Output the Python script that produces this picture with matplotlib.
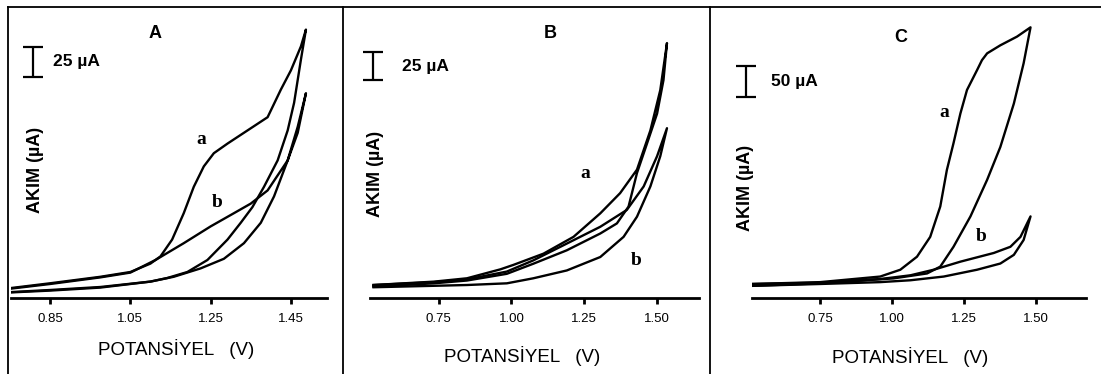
import matplotlib.pyplot as plt
from matplotlib.lines import Line2D

# cyclic voltammograms, curve "a" and "b" in three panels (potential in V, current in uA)
A_a_v = [0.754, 0.85, 0.975, 1.05, 1.10, 1.125, 1.154, 1.183, 1.208, 1.233, 1.258, 1.292, 1.342, 1.392, 1.425, 1.45,
         1.475, 1.4875,
         1.475, 1.458, 1.442, 1.417, 1.383, 1.354, 1.325, 1.292, 1.242, 1.192, 1.142, 1.10, 0.975, 0.85, 0.754]
A_a_i = [1.7, 5.6, 11, 15, 22, 28, 42, 64, 86, 103, 114, 122, 133, 144, 167, 183,
         203, 217,
         192, 156, 133, 108, 86, 69, 56, 42, 25, 15, 10, 7, 2.5, 0, -1.7]
A_b_v = [0.754, 0.85, 0.975, 1.05, 1.1125, 1.183, 1.25, 1.308, 1.35, 1.392, 1.442, 1.467, 1.4875,
         1.467, 1.442, 1.408, 1.375, 1.333, 1.283, 1.225, 1.158, 1.10, 0.975, 0.85, 0.754]
A_b_i = [1.2, 5, 10.5, 14.5, 25, 39, 53, 64, 72, 83, 108, 131, 164,
         136, 108, 78, 56, 39, 26, 18, 11, 7, 2, -0.5, -2]

B_a_v = [0.526, 0.733, 0.847, 0.962, 1.007, 1.110, 1.213, 1.305, 1.373, 1.431, 1.477, 1.511, 1.534,
         1.522, 1.50, 1.465, 1.431, 1.402, 1.362, 1.305, 1.19, 1.075, 0.984, 0.847, 0.733, 0.526]
B_a_i = [0, 3, 6, 14, 18, 28, 43, 64, 82, 103, 138, 174, 216,
         183, 153, 126, 100, 70, 55, 46, 31, 19, 10, 4, 1.5, -1.5]
B_b_v = [0.526, 0.733, 0.847, 0.984, 1.075, 1.19, 1.305, 1.396, 1.454, 1.50, 1.534,
         1.511, 1.477, 1.431, 1.385, 1.305, 1.19, 1.075, 0.984, 0.847, 0.526]
B_b_i = [0, 2.5, 5, 12, 22, 37, 52, 67, 88, 115, 140,
         115, 88, 61, 43, 25, 13, 6, 1.5, 0, -2]

C_a_v = [0.513, 0.75, 0.959, 1.029, 1.087, 1.133, 1.168, 1.191, 1.214, 1.238, 1.261, 1.2785, 1.296, 1.313, 1.331,
         1.377, 1.435, 1.482,
         1.458, 1.424, 1.377, 1.331, 1.273, 1.214, 1.168, 1.122, 1.005, 0.75, 0.513]
C_a_i = [0, 3, 12, 23, 44, 76, 125, 184, 227, 275, 313, 329, 345, 361, 372,
         385, 399, 414,
         356, 291, 221, 168, 109, 60, 28, 17, 9, 1, -3]
C_b_v = [0.513, 0.75, 0.959, 1.064, 1.145, 1.238, 1.354, 1.412, 1.447, 1.482,
         1.458, 1.424, 1.377, 1.296, 1.18, 1.064, 0.959, 0.75, 0.513]
C_b_i = [0, 2, 8, 14, 23, 36, 50, 60, 76, 109,
         71, 47, 33, 23, 12, 6, 3, 0, -3]

ticks_A = [0.85, 1.05, 1.25, 1.45]
ticks_B = [0.75, 1.00, 1.25, 1.50]
ticks_C = [0.75, 1.00, 1.25, 1.50]
labels_A = ['0.85', '1.05', '1.25', '1.45']
labels_BC = ['0.75', '1.00', '1.25', '1.50']

W, H = 1101, 374
SANS = ['Liberation Sans Narrow', 'Liberation Sans', 'DejaVu Sans']
SERIF = ['Liberation Serif', 'DejaVu Serif']

fig = plt.figure(figsize=(W / 100, H / 100), dpi=100)


def fx(x):
    return x / W


def fy(y):
    return (H - y) / H


# frame around the panels
for line in [((8, W), (7, 7)), ((8, 8), (7, H)), ((343, 343), (7, H)), ((710, 710), (7, H))]:
    fig.add_artist(Line2D([fx(v) for v in line[0]], [fy(v) for v in line[1]], color='black', lw=1.3))

panels = [
    dict(x0=11, x1=327, xlim=(0.7525, 1.54), ylim=(-6.67, 225), ticks=ticks_A, labels=labels_A,
         curves=[(A_a_v, A_a_i), (A_b_v, A_b_i)], title='A', title_xy=(155, 33),
         xlab_xy=(176, 349), ylab_xy=(35, 170),
         bar=(0.8075, 190, 12.5), bar_text='25 µA', bar_text_xy=(0.8575, 190),
         a_xy=(1.2275, 125), b_xy=(1.2675, 72.5)),
    dict(x0=370, x1=699, xlim=(0.514, 1.644), ylim=(-11.6, 236.6), ticks=ticks_B, labels=labels_BC,
         curves=[(B_a_v, B_a_i), (B_b_v, B_b_i)], title='B', title_xy=(550, 33),
         xlab_xy=(522, 356), ylab_xy=(376, 174),
         bar=(0.524, 195.5, 12.5), bar_text='25 µA', bar_text_xy=(0.624, 195),
         a_xy=(1.253, 100), b_xy=(1.429, 22.3)),
    dict(x0=752, x1=1086, xlim=(0.513, 1.675), ylim=(-22.6, 425.8), ticks=ticks_C, labels=labels_BC,
         curves=[(C_a_v, C_a_i), (C_b_v, C_b_i)], title='C', title_xy=(901, 37),
         xlab_xy=(910, 357), ylab_xy=(746, 188),
         bar=(0.492, 326.6, 25), bar_text='50 µA', bar_text_xy=(0.579, 326),
         a_xy=(1.182, 276), b_xy=(1.311, 75.8)),
]

for p in panels:
    ax = fig.add_axes([fx(p['x0']), fy(298), fx(p['x1'] - p['x0']), (298 - 20) / H])
    for v, i in p['curves']:
        ax.plot(v, i, color='black', lw=1.7, solid_joinstyle='round')
    ax.set_xlim(p['xlim'])
    ax.set_ylim(p['ylim'])
    for s in ['top', 'right', 'left']:
        ax.spines[s].set_visible(False)
    ax.spines['bottom'].set_linewidth(2)
    ax.set_yticks([])
    ax.set_xticks(p['ticks'])
    ax.set_xticklabels(p['labels'], family=SANS, fontsize=9.5)
    ax.tick_params(axis='x', direction='out', length=4, width=2, pad=7)
    ax.patch.set_alpha(0)

    # scale bar
    bx, by, bh = p['bar']
    ax.errorbar([bx], [by], yerr=[bh], fmt='none', ecolor='black', elinewidth=1.6,
                capsize=7, capthick=1.6, clip_on=False)
    ax.text(p['bar_text_xy'][0], p['bar_text_xy'][1], p['bar_text'], family=SANS,
            fontsize=12.5, fontweight='bold', ha='left', va='center')

    ax.text(p['a_xy'][0], p['a_xy'][1], 'a', family=SERIF, fontsize=14, fontweight='bold',
            ha='center', va='center')
    ax.text(p['b_xy'][0], p['b_xy'][1], 'b', family=SERIF, fontsize=14, fontweight='bold',
            ha='center', va='center')

    fig.text(fx(p['title_xy'][0]), fy(p['title_xy'][1]), p['title'], family=SANS,
             fontsize=13, fontweight='bold', ha='center', va='center')
    fig.text(fx(p['xlab_xy'][0]), fy(p['xlab_xy'][1]), 'POTANSİYEL   (V)', family=SANS,
             fontsize=13.5, ha='center', va='center')
    fig.text(fx(p['ylab_xy'][0]), fy(p['ylab_xy'][1]), 'AKIM (µA)', family=SANS,
             fontsize=13, fontweight='bold', rotation=90, ha='center', va='center')

fig.savefig('out.png', dpi=100)
